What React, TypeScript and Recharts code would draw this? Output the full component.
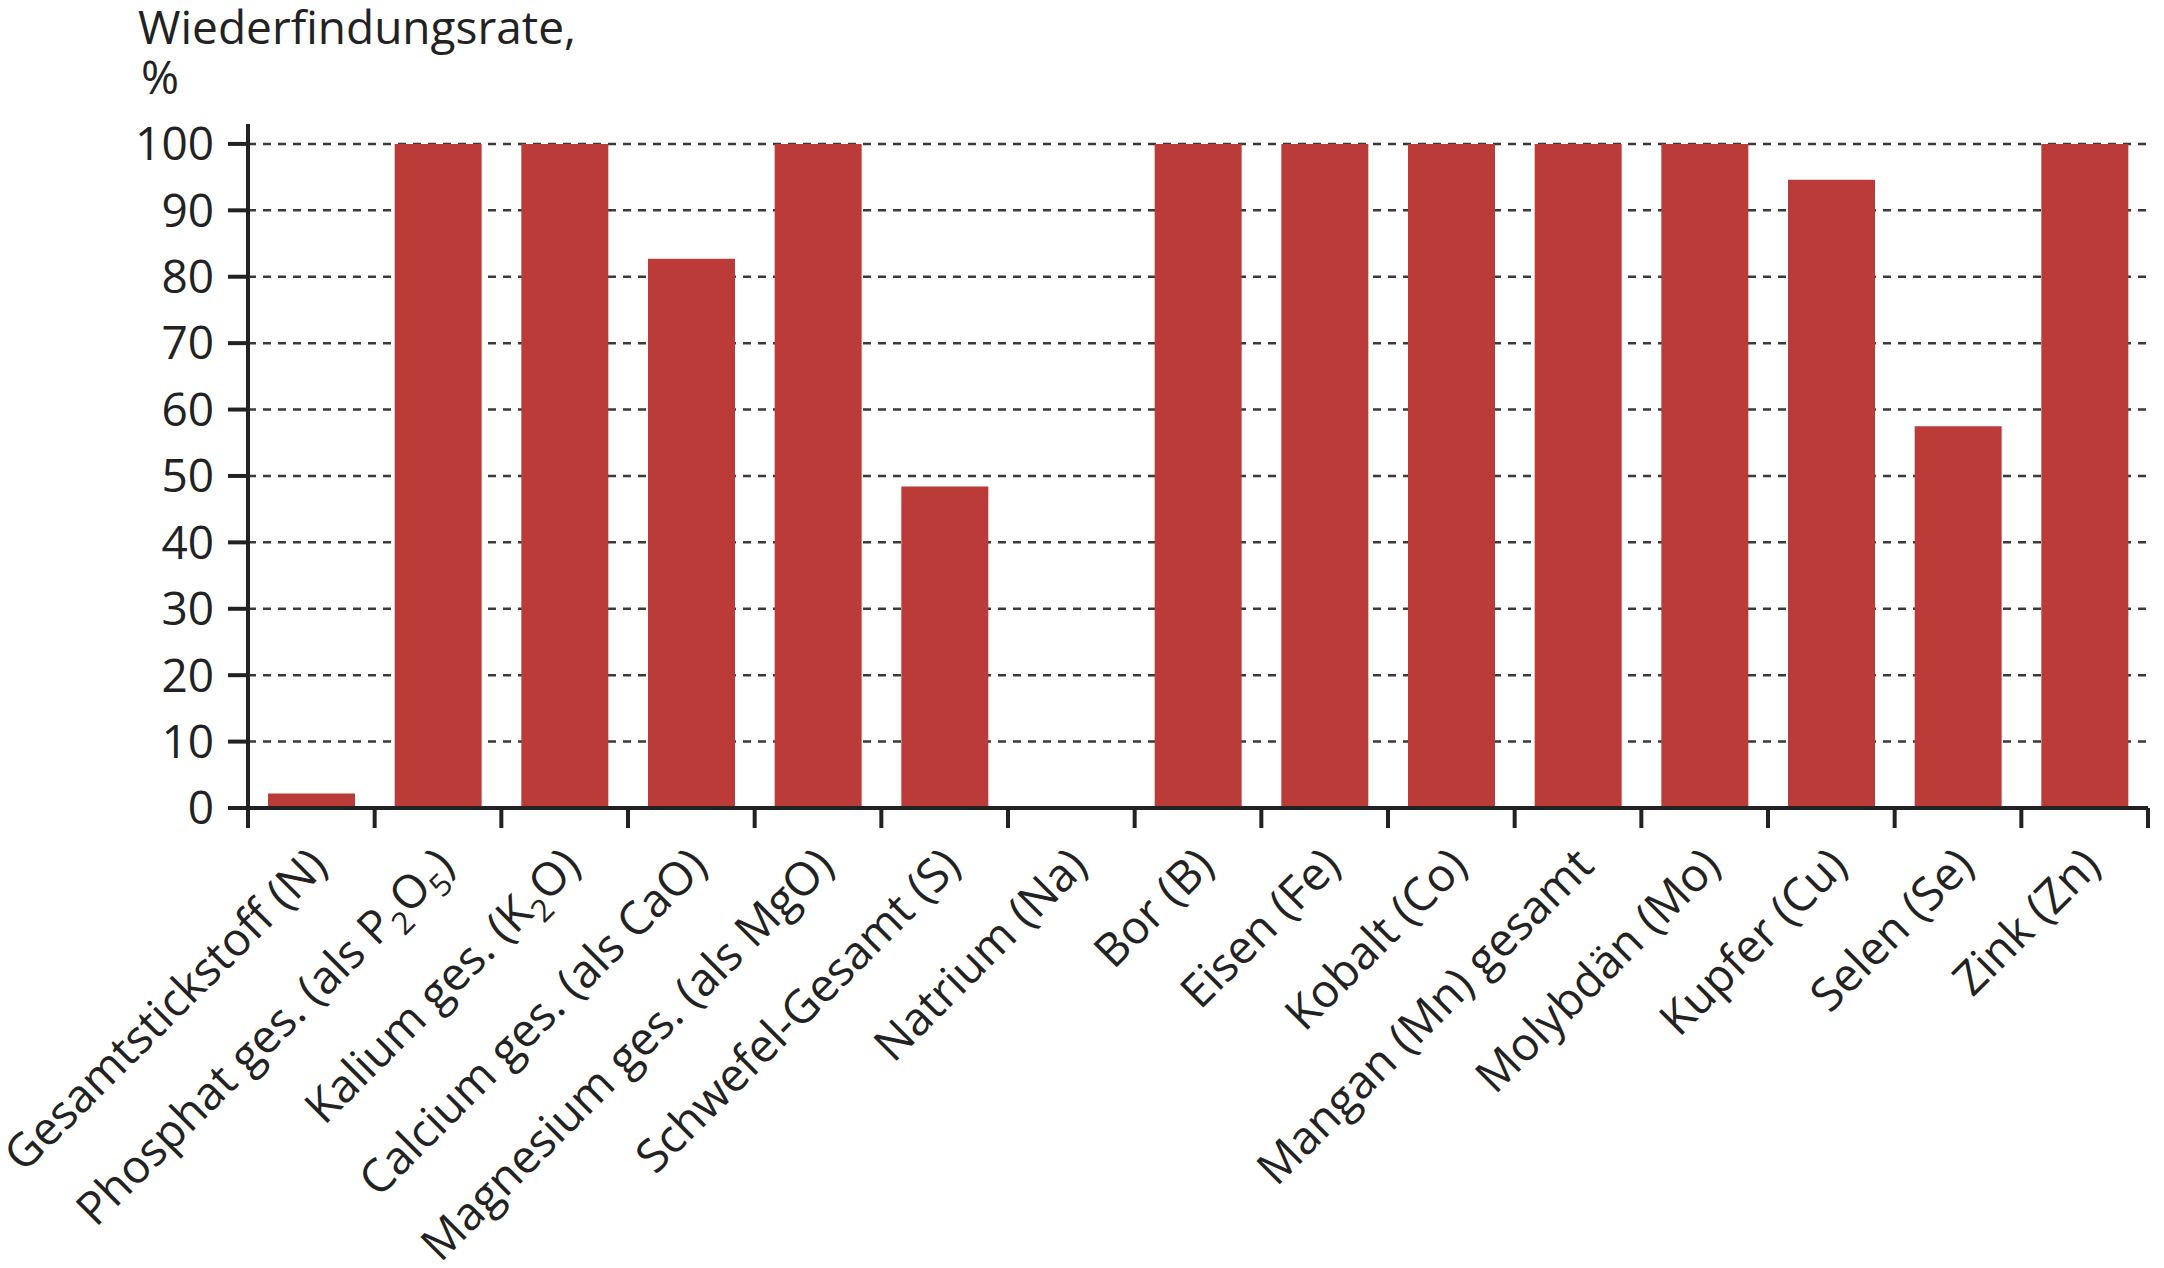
import React from 'react';
import { BarChart, Bar, XAxis, YAxis, CartesianGrid } from 'recharts';

// Recovery rate per parameter, in percent
const CATEGORIES = [
    'Gesamtstickstoff (N)',
    'Phosphat ges. (als P_2O_5)',
    'Kalium ges. (K_2O)',
    'Calcium ges. (als CaO)',
    'Magnesium ges. (als MgO)',
    'Schwefel-Gesamt (S)',
    'Natrium (Na)',
    'Bor (B)',
    'Eisen (Fe)',
    'Kobalt (Co)',
    'Mangan (Mn) gesamt',
    'Molybdän (Mo)',
    'Kupfer (Cu)',
    'Selen (Se)',
    'Zink (Zn)',
];
const RECOVERY = [2.2, 100, 100, 82.7, 100, 48.4, 0, 100, 100, 100, 100, 100, 94.6, 57.5, 100];
const Y_TICKS = [0, 10, 20, 30, 40, 50, 60, 70, 80, 90, 100];

const rows = CATEGORIES.map((name, i) => ({ name, value: RECOVERY[i] }));

const CHART_W = 2164;
const CHART_H = 1268;
const Y_AXIS_W = 248;
const MARGIN = { top: 124, right: 16, bottom: 0, left: 0 };
const PLOT_W = CHART_W - Y_AXIS_W - MARGIN.left - MARGIN.right;

const FONT = '"Open Sans", "Noto Sans", sans-serif';
const INK = '#222';
const BAR_RED = '#BA3B37';
const FONT_SIZE = 46;
const SUB_DY = 12;
const EDGE_TICK = 20;

// "_2" in a label marks a subscript digit
const renderLabelParts = (text: string) => {
    const parts = text.split(/_(\d)/);
    return parts.map((part, i) => {
        if (i % 2 === 1) {
            return (
                <tspan key={i} dy={SUB_DY} fontSize={31}>
                    {part}
                </tspan>
            );
        }
        return (
            <tspan key={i} dy={i > 0 ? -SUB_DY : 0}>
                {part}
            </tspan>
        );
    });
};

// label plus the tick marks on the slot borders (ticks sit between bars)
const CategoryTick = (props: any) => {
    const { x, y, payload, index } = props;
    const count = props.visibleTicksCount || CATEGORIES.length;
    const band = (Number(props.width) || PLOT_W) / count;
    const half = band / 2;
    return (
        <g>
            {index === 0 && (
                <line x1={x - half} x2={x - half} y1={y} y2={y + EDGE_TICK} stroke={INK} strokeWidth={4} />
            )}
            <line x1={x + half} x2={x + half} y1={y} y2={y + EDGE_TICK} stroke={INK} strokeWidth={4} />
            <g transform={`translate(${x + 18},${y + 60}) rotate(-45)`}>
                <text x={0} y={0} textAnchor="end" fill={INK} fontSize={FONT_SIZE} fontFamily={FONT}>
                    {renderLabelParts(String(payload.value))}
                </text>
            </g>
        </g>
    );
};

export default function App() {
    return (
        <div style={{ position: 'absolute', left: 0, top: 0, width: CHART_W, height: CHART_H, background: '#fff' }}>
            <svg
                width={700}
                height={110}
                style={{ position: 'absolute', left: 0, top: 0 }}
                fontFamily={FONT}
                fontSize={FONT_SIZE}
                fill={INK}
            >
                <text x={138} y={44}>Wiederfindungsrate,</text>
                <text x={141} y={94}>%</text>
            </svg>
            <BarChart width={CHART_W} height={CHART_H} data={rows} margin={MARGIN}>
                <CartesianGrid
                    vertical={false}
                    syncWithTicks
                    stroke="#3a3a3a"
                    strokeWidth={2.5}
                    strokeDasharray="8 7"
                />
                <XAxis
                    dataKey="name"
                    interval={0}
                    height={CHART_H - MARGIN.top - MARGIN.bottom - 684}
                    tickSize={0}
                    tickMargin={0}
                    tickLine={false}
                    axisLine={{ stroke: INK, strokeWidth: 4 }}
                    tick={<CategoryTick />}
                />
                <YAxis
                    domain={[0, 103]}
                    ticks={Y_TICKS}
                    interval={0}
                    width={Y_AXIS_W}
                    tickSize={20}
                    tickMargin={14}
                    axisLine={{ stroke: INK, strokeWidth: 4 }}
                    tickLine={{ stroke: INK, strokeWidth: 4 }}
                    tick={{ fill: INK, fontSize: FONT_SIZE, fontFamily: FONT }}
                />
                <Bar dataKey="value" fill={BAR_RED} barSize={87} isAnimationActive={false} />
            </BarChart>
        </div>
    );
}
